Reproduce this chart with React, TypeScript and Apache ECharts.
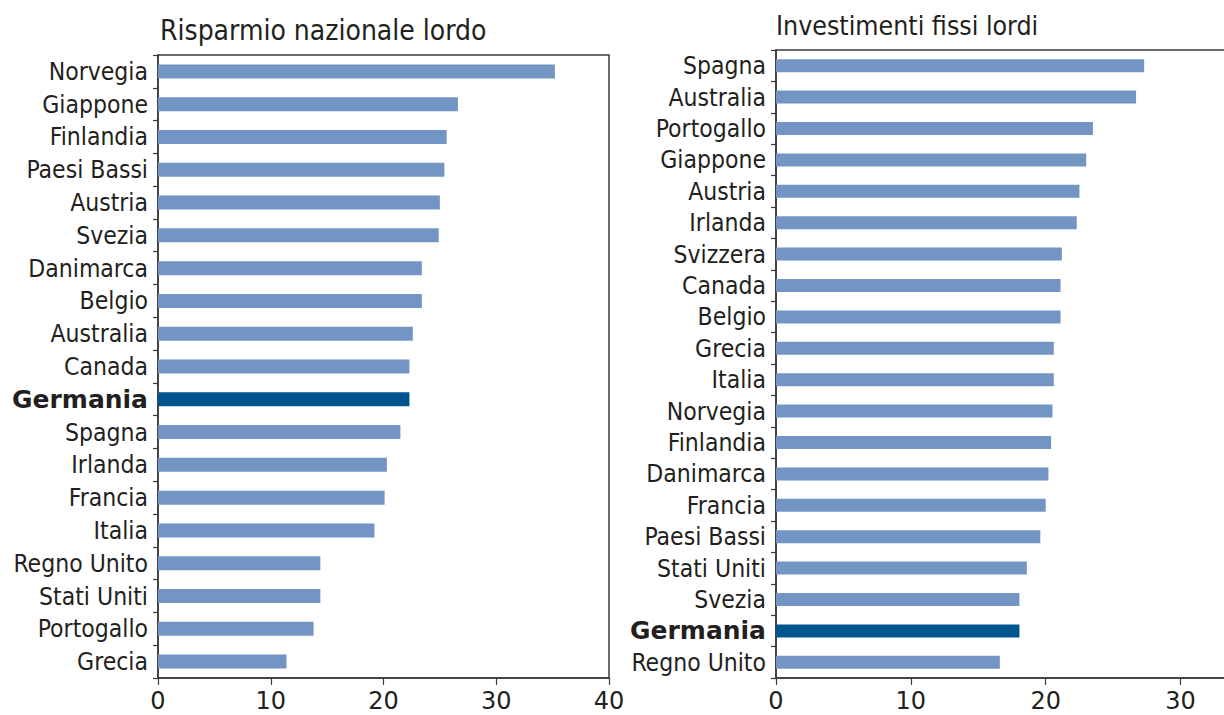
import React, { useEffect, useRef } from "react";
import * as echarts from "echarts";

// Risparmio nazionale lordo (% del PIL), dall'alto in basso
const savingsCountries = [
  "Norvegia", "Giappone", "Finlandia", "Paesi Bassi", "Austria", "Svezia",
  "Danimarca", "Belgio", "Australia", "Canada", "Germania", "Spagna",
  "Irlanda", "Francia", "Italia", "Regno Unito", "Stati Uniti", "Portogallo", "Grecia",
];
const savingsValues = [
  35.2, 26.6, 25.6, 25.4, 25.0, 24.9, 23.4, 23.4, 22.6, 22.3, 22.3, 21.5,
  20.3, 20.1, 19.2, 14.4, 14.4, 13.8, 11.4,
];

// Investimenti fissi lordi (% del PIL), dall'alto in basso
const investmentCountries = [
  "Spagna", "Australia", "Portogallo", "Giappone", "Austria", "Irlanda",
  "Svizzera", "Canada", "Belgio", "Grecia", "Italia", "Norvegia", "Finlandia",
  "Danimarca", "Francia", "Paesi Bassi", "Stati Uniti", "Svezia", "Germania", "Regno Unito",
];
const investmentValues = [
  27.3, 26.7, 23.5, 23.0, 22.5, 22.3, 21.2, 21.1, 21.1, 20.6, 20.6, 20.5,
  20.4, 20.2, 20.0, 19.6, 18.6, 18.05, 18.05, 16.6,
];

const savingsTicks = [0, 10, 20, 30, 40];
const investmentTicks = [0, 10, 20, 30];

const titles = ["Risparmio nazionale lordo", "Investimenti fissi lordi"];
const highlighted = "Germania";

const FONT = "'DejaVu Sans Condensed', 'DejaVu Sans', sans-serif";
const FONT_WIDE = "'DejaVu Sans', sans-serif";
const TEXT = "#231f20";
const AXIS = "#3a3a3a";
const BAR = "#7395c4";
const BAR_HL = "#00558f";

function barData(names: string[], values: number[]) {
  return values.map((v, i) => ({
    value: v,
    itemStyle: { color: names[i] === highlighted ? BAR_HL : BAR },
  }));
}

function categoryAxis(gridIndex: number, names: string[]) {
  return {
    type: "category",
    gridIndex,
    data: names,
    inverse: true,
    axisLine: { show: true, lineStyle: { color: AXIS, width: 1.5 } },
    axisTick: { show: true, interval: 0, length: 5, inside: false, lineStyle: { color: AXIS, width: 1.2 } },
    axisLabel: {
      interval: 0,
      margin: 10,
      fontFamily: FONT,
      fontSize: 24.5,
      color: TEXT,
      formatter: (v: string) => (v === highlighted ? `{b|${v}}` : v),
      rich: {
        b: { fontFamily: FONT_WIDE, fontSize: 25, fontWeight: "bold", color: TEXT },
      },
    },
  };
}

function valueAxis(gridIndex: number, ticks: number[], max: number) {
  return {
    type: "value",
    gridIndex,
    min: ticks[0],
    max,
    interval: ticks[1] - ticks[0],
    splitLine: { show: false },
    axisLine: { show: true, lineStyle: { color: AXIS, width: 1.5 } },
    axisTick: { show: true, length: 7, inside: false, lineStyle: { color: AXIS, width: 1.2 } },
    axisLabel: {
      margin: 11,
      fontFamily: FONT_WIDE,
      fontSize: 24,
      color: TEXT,
      showMaxLabel: max === ticks[ticks.length - 1],
    },
  };
}

export default function App() {
  const ref = useRef<HTMLDivElement>(null);

  useEffect(() => {
    if (!ref.current) return;
    const chart = echarts.init(ref.current, undefined, { renderer: "svg" });
    chart.setOption({
      animation: false,
      backgroundColor: "#ffffff",
      title: [
        {
          text: titles[0],
          left: 160,
          top: 16,
          padding: 0,
          textStyle: { fontFamily: FONT, fontSize: 28, fontWeight: "normal", color: TEXT },
        },
        {
          text: titles[1],
          left: 776,
          top: 12,
          padding: 0,
          textStyle: { fontFamily: FONT, fontSize: 26.5, fontWeight: "normal", color: TEXT },
        },
      ],
      grid: [
        {
          left: 158, top: 55, width: 451, height: 623,
          outerBoundsMode: "none",
          show: true, borderColor: AXIS, borderWidth: 1.5, backgroundColor: "transparent",
        },
        {
          left: 776, top: 50, width: 472, height: 628,
          outerBoundsMode: "none",
          show: true, borderColor: AXIS, borderWidth: 1.5, backgroundColor: "transparent",
        },
      ],
      xAxis: [
        valueAxis(0, savingsTicks, 40),
        valueAxis(1, investmentTicks, 35),
      ],
      yAxis: [
        categoryAxis(0, savingsCountries),
        categoryAxis(1, investmentCountries),
      ],
      series: [
        {
          type: "bar",
          xAxisIndex: 0,
          yAxisIndex: 0,
          barWidth: 14,
          data: barData(savingsCountries, savingsValues),
        },
        {
          type: "bar",
          xAxisIndex: 1,
          yAxisIndex: 1,
          barWidth: 13,
          data: barData(investmentCountries, investmentValues),
        },
      ],
    });
    return () => chart.dispose();
  }, []);

  return (
    <div
      ref={ref}
      style={{ position: "fixed", left: 0, top: 0, width: 1224, height: 715, background: "#fff" }}
    />
  );
}
